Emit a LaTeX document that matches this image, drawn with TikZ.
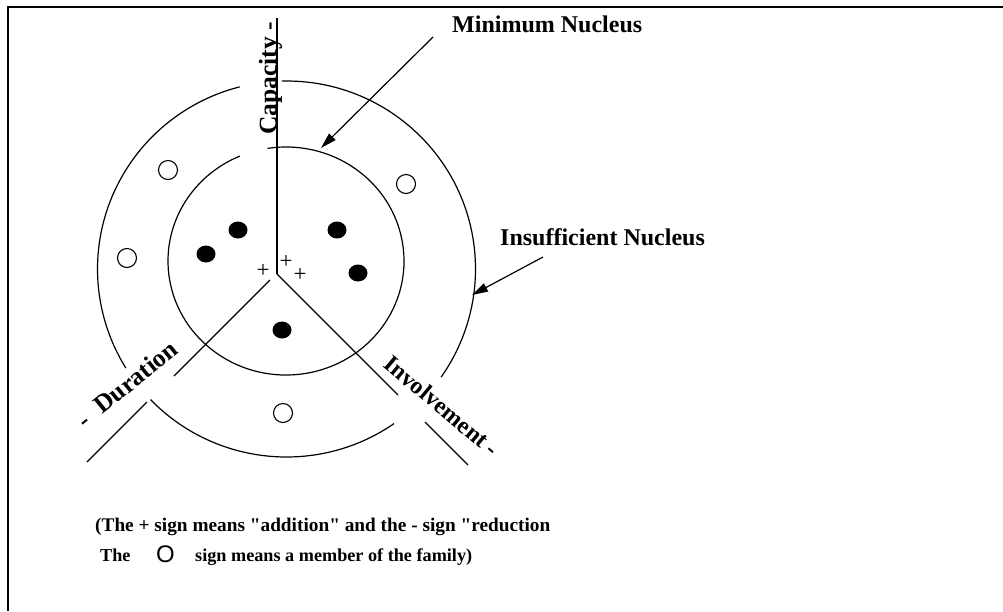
\documentclass[tikz,border=0pt]{standalone}
\usepackage{fontspec}
\setmainfont{Liberation Serif}[Ligatures=TeXOff]
\newfontfamily\sansO{Liberation Sans}
\usetikzlibrary{arrows.meta,shapes.geometric}
\begin{document}
\begin{tikzpicture}[x=1pt,y=-1pt,
  ln/.style={line width=1.2pt},
  lbl/.style={font=\fontsize{24}{28}\selectfont\bfseries, inner sep=0pt},
  rlbl/.style={font=\fontsize{25.5}{28}\selectfont\bfseries, inner sep=0pt},
  note/.style={font=\fontsize{19.3}{22}\selectfont\bfseries, inner sep=0pt, anchor=base west},
  notes/.style={font=\fontsize{18.2}{22}\selectfont\bfseries, inner sep=0pt, anchor=base west},
  plus/.style={font=\fontsize{23}{24}\selectfont, inner sep=0pt},
  member/.style={circle, draw, line width=1.1pt, minimum size=19pt, inner sep=0pt},
  core/.style={ellipse, fill=black, minimum width=19pt, minimum height=17pt, inner sep=0pt},
  ptr/.style={line width=1.2pt, -{Triangle[length=16pt,width=9pt]}},
]
\useasboundingbox (0,0) rectangle (1003,611);
% frame
\draw[line width=2.5pt] (1003,7) -- (8,7) -- (8,611);

% axes
\coordinate (V) at (277,274);
\coordinate (capTop) at (277,18);
\draw[ln] (capTop) -- (V);
\coordinate (d1a) at (270,280);
\coordinate (d1b) at (174,376);
\coordinate (d2a) at (147,402);
\coordinate (d2b) at (87,462);
\draw[ln] (d1a) -- (d1b);
\draw[ln] (d2a) -- (d2b);
\coordinate (i1b) at (398,395);
\coordinate (i2a) at (425,422);
\coordinate (i2b) at (468,465);
\draw[ln] (V) -- (i1b);
\draw[ln] (i2a) -- (i2b);

% inner circle (minimum nucleus)
\draw[ln] ([shift={(-99:118 and 114)}]286,261) arc [start angle=-99, end angle=247, x radius=118, y radius=114];
% outer circle (insufficient nucleus)
\draw[ln] ([shift={(-91.4:189 and 188)}]286.5,269) arc [start angle=-91.4, end angle=35.1, x radius=189, y radius=188];
\draw[ln] ([shift={(55.3:189 and 188)}]286.5,269) arc [start angle=55.3, end angle=136, x radius=189, y radius=188];
\draw[ln] ([shift={(148.2:189 and 188)}]286.5,269) arc [start angle=148.2, end angle=255.7, x radius=189, y radius=188];

% axis labels
\node[rlbl, rotate=90, anchor=base] (cap) at (276.5,78.5) {Capacity -};
\node[rlbl, rotate=39] (dur) at (127,384) {-\hspace{14pt}Duration};
\node[lbl, rotate=-40] (inv) at (442,406) {Involvement -};

% plus signs
\node[plus] (p1) at (263,271) {+};
\node[plus] (p2) at (286,262) {+};
\node[plus] (p3) at (300,275) {+};

% core members (filled)
\node[core] (c1) at (238,230) {};
\node[core] (c2) at (206,254) {};
\node[core] (c3) at (337,230) {};
\node[core] (c4) at (358,273) {};
\node[core] (c5) at (282,330) {};

% other members (open)
\node[member] (o1) at (168,170) {};
\node[member] (o2) at (406,184) {};
\node[member] (o3) at (127,258) {};
\node[member] (o4) at (283,413) {};

% callouts
\node[lbl, anchor=base west] (minN) at (452,32) {Minimum Nucleus};
\coordinate (minT) at (433,37);
\coordinate (minH) at (321,148);
\draw[ptr] (minT) -- (minH);
\node[lbl, anchor=base west] (insN) at (500,245) {Insufficient Nucleus};
\coordinate (insT) at (543,257);
\coordinate (insH) at (472,295);
\draw[ptr] (insT) -- (insH);

% notes
\node[note] (n1) at (95,531) {(The + sign means "addition" and the - sign "reduction};
\node[notes] (n2) at (100,561) {The};
\node[font=\sansO\fontsize{24}{26}\selectfont, inner sep=0pt, anchor=base west] (n3) at (156,562) {O};
\node[notes] (n4) at (195,561) {sign means a member of the family)};
\end{tikzpicture}
\end{document}
